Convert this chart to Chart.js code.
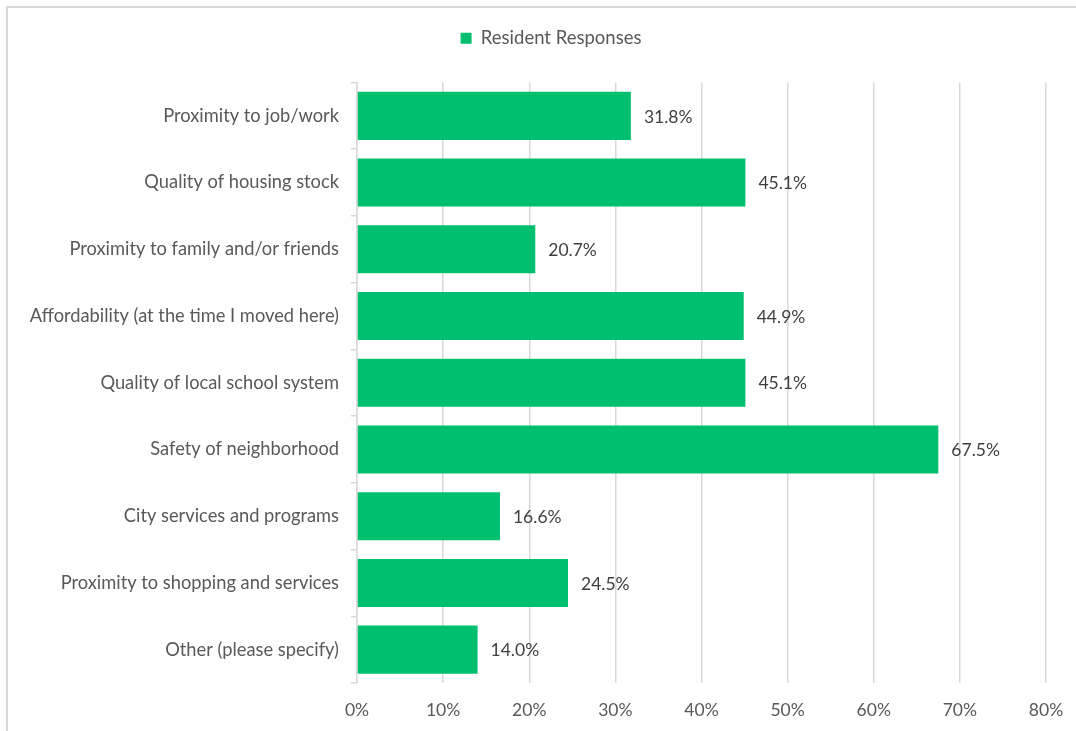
<!DOCTYPE html>
<html>
<head>
<meta charset="utf-8">
<script src="https://cdn.jsdelivr.net/npm/chart.js@4"></script>
<style>
  html, body { margin: 0; padding: 0; background: #fff; overflow: hidden; }
  #frame {
    position: absolute; left: 6px; top: 6px;
    width: 1200px; height: 900px;
    border: 2px solid #d9d9d9; box-sizing: border-box;
  }
  #wrap { position: absolute; left: 0; top: 0; width: 1076px; height: 731px; }
</style>
</head>
<body>
<div id="frame"></div>
<div id="wrap"><canvas id="reasonsChart"></canvas></div>
<script>
const categories = [
    "Proximity to job/work",
    "Quality of housing stock",
    "Proximity to family and/or friends",
    "Affordability (at the time I moved here)",
    "Quality of local school system",
    "Safety of neighborhood",
    "City services and programs",
    "Proximity to shopping and services",
    "Other (please specify)"
];
const responses = [31.8, 45.1, 20.7, 44.9, 45.1, 67.5, 16.6, 24.5, 14.0];
const xTicks = [0, 10, 20, 30, 40, 50, 60, 70, 80];

const green = "#00bf6f";
const textColor = "#595959";
const fontFamily = "Lato, 'Open Sans', sans-serif";

// write the value next to the end of each bar
const valueLabels = {
    id: "valueLabels",
    afterDatasetsDraw(chart) {
        const ctx = chart.ctx;
        const meta = chart.getDatasetMeta(0);
        ctx.save();
        ctx.font = "17.5px " + fontFamily;
        ctx.fillStyle = "#404040";
        ctx.textAlign = "left";
        ctx.textBaseline = "middle";
        meta.data.forEach((bar, i) => {
            ctx.fillText(responses[i].toFixed(1) + "%", bar.x + 13, bar.y + 1);
        });
        ctx.restore();
    }
};

// extra room between the legend and the plot, and nudge the legend right
const legendGap = {
    id: "legendGap",
    beforeLayout(chart) {
        const legend = chart.legend;
        if (!legend || legend._gapPatched) return;
        const fit = legend.fit;
        legend.fit = function () {
            fit.call(this);
            this.height += 25;
        };
        legend._gapPatched = true;
    },
    afterLayout(chart) {
        const legend = chart.legend;
        if (!legend) return;
        legend.left += 28;
        legend.right += 28;
    }
};

const ctx = document.getElementById("reasonsChart").getContext("2d");
new Chart(ctx, {
    type: "bar",
    data: {
        labels: categories,
        datasets: [{
            label: "Resident Responses",
            data: responses,
            backgroundColor: green,
            borderWidth: 0,
            categoryPercentage: 1.0,
            barPercentage: 0.72
        }]
    },
    options: {
        indexAxis: "y",
        responsive: true,
        maintainAspectRatio: false,
        animation: false,
        layout: { padding: { top: 13, right: 30, bottom: 0, left: 0 } },
        plugins: {
            tooltip: { enabled: false },
            legend: {
                position: "top",
                labels: {
                    boxWidth: 11,
                    boxHeight: 11,
                    padding: 16,
                    color: textColor,
                    font: { family: fontFamily, size: 18.5 }
                }
            }
        },
        scales: {
            x: {
                min: 0,
                max: 80,
                afterBuildTicks(scale) {
                    scale.ticks = xTicks.map(v => ({ value: v }));
                },
                afterFit(scale) {
                    scale.height = 48;
                    scale.paddingRight = 0;
                    scale.paddingLeft = 0;
                },
                ticks: {
                    color: textColor,
                    font: { family: fontFamily, size: 17.5 },
                    padding: 17,
                    callback: v => v + "%"
                },
                grid: { color: "#d9d9d9", lineWidth: 1.5, drawTicks: false },
                border: { display: false }
            },
            y: {
                afterFit(scale) { scale.width = 357; },
                ticks: {
                    color: textColor,
                    font: { family: fontFamily, size: 18.3 },
                    padding: 12
                },
                grid: {
                    offset: true,
                    drawOnChartArea: false,
                    tickLength: 6,
                    color: "#d9d9d9",
                    lineWidth: 1.5
                },
                border: { display: true, color: "#d9d9d9", width: 1.5 }
            }
        }
    },
    plugins: [valueLabels, legendGap]
});
</script>
</body>
</html>
